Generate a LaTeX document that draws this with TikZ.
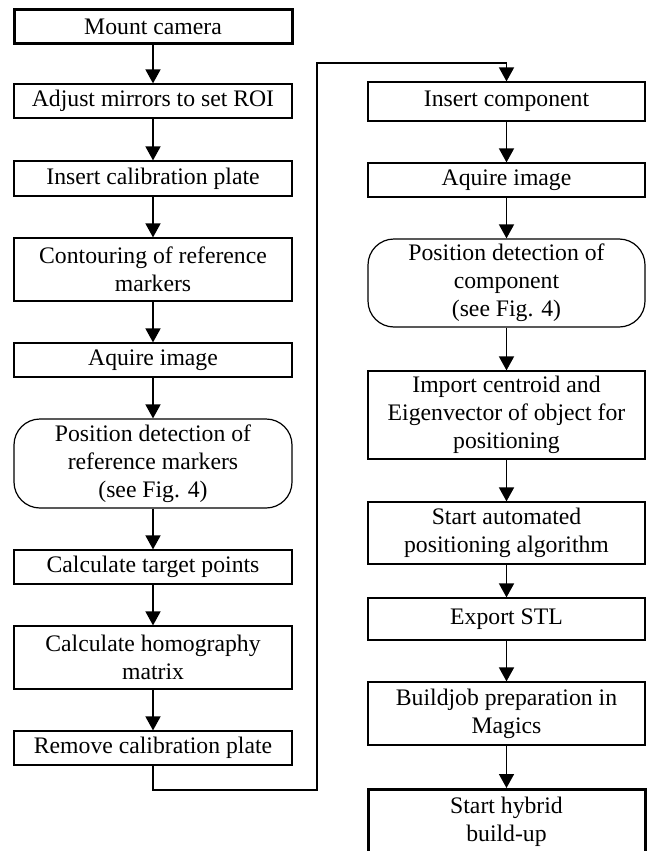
\documentclass[tikz,border=0pt]{standalone}
\usepackage{fontspec}
\setmainfont{Liberation Serif}
\usetikzlibrary{arrows.meta}
\tikzset{
  box/.style={draw, line width=1.2pt, minimum width=278pt, inner sep=0pt, align=center,
    font={\fontsize{23.7}{27.8}\selectfont}},
  thickbox/.style={box, line width=3pt},
  roundbox/.style={box, rounded corners=26pt},
  txt/.style={inner sep=0pt, align=center, font={\fontsize{23.7}{27.8}\selectfont}},
  conn/.style={line width=1.6pt, -{Triangle[length=14pt,width=15pt]}},
  line/.style={line width=1.6pt}
}
\begin{document}
\begin{tikzpicture}[x=1pt,y=-1pt]
\clip (0,0) rectangle (647,851);
\fill[white] (0,0) rectangle (647,851);
% left column
\node[thickbox, minimum height=34pt] (mount) at (153,27) {Mount camera};
\node[box, minimum height=34pt] (adjust) at (153,101) {Adjust mirrors to set ROI};
\node[box, minimum height=35pt] (insert) at (153,178.5) {Insert calibration plate};
\node[box, minimum height=63pt] (contour) at (153,269.5) {Contouring of reference\\markers};
\node[box, minimum height=34pt] (aquire) at (153,360) {Aquire image};
\node[roundbox, minimum height=89pt] (posref) at (153,463.5) {Position detection of\\reference markers\\(see Fig. 4)};
\node[box, minimum height=34pt] (target) at (153,567) {Calculate target points};
\node[box, minimum height=63pt] (homog) at (153,657.5) {Calculate homography\\matrix};
\node[box, minimum height=34pt] (remove) at (153,748) {Remove calibration plate};
% right column
\node[box, minimum width=277pt, minimum height=39pt] (inscomp) at (506.5,101.5) {Insert component};
\node[box, minimum width=277pt, minimum height=34pt] (aquire2) at (506.5,180) {Aquire image};
\node[roundbox, minimum width=277pt, minimum height=88pt] (poscomp) at (506.5,283) {Position detection of\\component\\(see Fig. 4)};
\node[box, minimum width=277pt, minimum height=88pt] (import) at (506.5,415) {Import centroid and\\Eigenvector of object for\\positioning};
\node[box, minimum width=277pt, minimum height=62pt] (auto) at (506.5,533) {Start automated\\positioning algorithm};
\node[box, minimum width=277pt, minimum height=42pt] (export) at (506.5,619) {Export STL};
\node[box, minimum width=277pt, minimum height=63pt] (build) at (506.5,713.5) {Buildjob preparation in\\Magics};
\node[thickbox, minimum width=277pt, minimum height=90pt, anchor=north] (hyb) at (506.5,788) {};
\node[txt] (hybtxt) at (506.5,822) {Start hybrid\\build-up};
% connectors
\draw[conn] (mount) -- (adjust);
\draw[conn] (adjust) -- (insert);
\draw[conn] (insert) -- (contour);
\draw[conn] (contour) -- (aquire);
\draw[conn] (aquire) -- (posref);
\draw[conn] (posref) -- (target);
\draw[conn] (target) -- (homog);
\draw[conn] (homog) -- (remove);
\coordinate (l1) at (317,790);
\coordinate (l2) at (317,63);
\draw[conn] (remove.south) |- (l1) -- (l2) -| (inscomp.north);
\draw[conn] (inscomp) -- (aquire2);
\draw[conn] (aquire2) -- (poscomp);
\draw[conn] (poscomp) -- (import);
\draw[conn] (import) -- (auto);
\draw[conn] (auto) -- (export);
\draw[conn] (export) -- (build);
\draw[conn] (build) -- (hyb);
\end{tikzpicture}
\end{document}
